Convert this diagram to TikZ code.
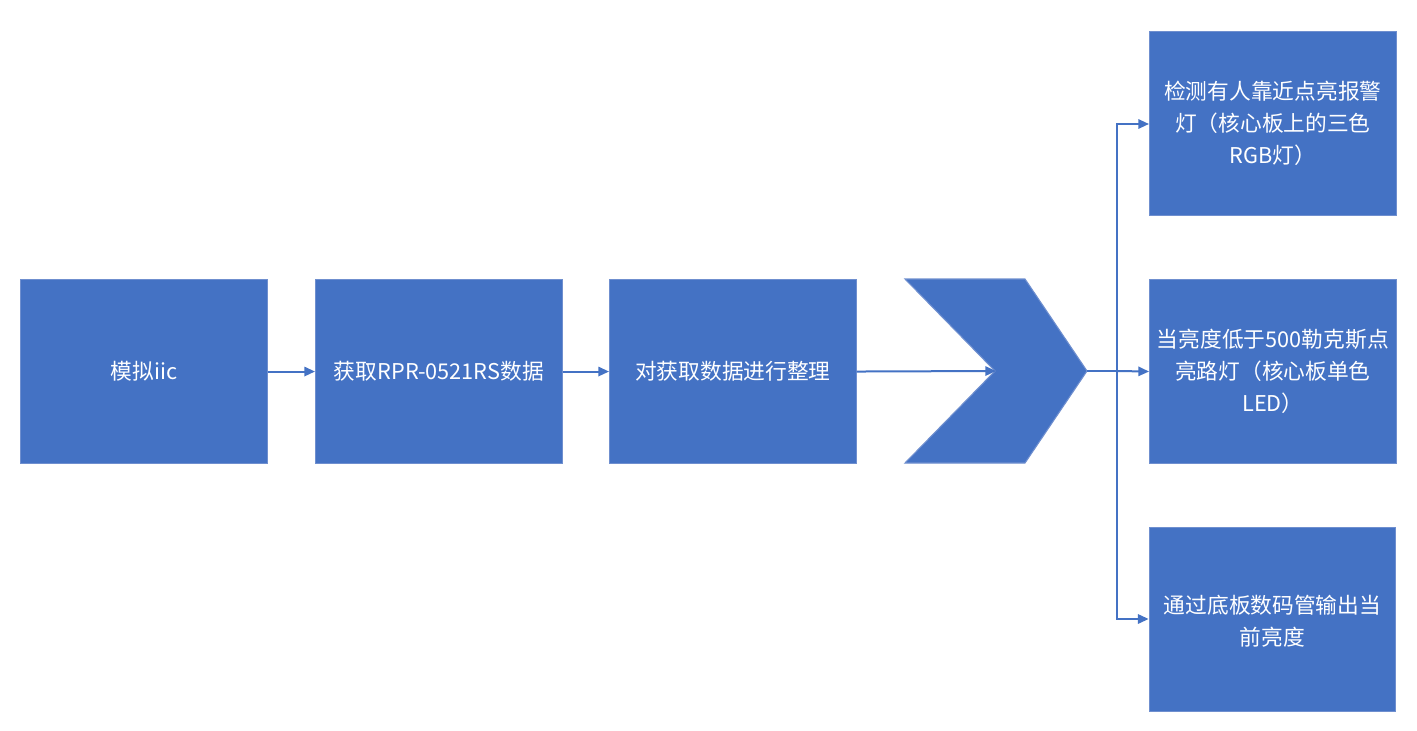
\documentclass[tikz,border=0pt]{standalone}
\usepackage{fontspec}
\setmainfont{Noto Sans CJK SC}
\usetikzlibrary{arrows.meta}
\definecolor{bl}{HTML}{4472C4}
\definecolor{bd}{HTML}{6F8FCF}
\begin{document}
\begin{tikzpicture}[x=0.75pt,y=-0.75pt,
  box/.style={draw=bd,fill=bl,line width=0.8pt,minimum width=185pt,minimum height=138pt,anchor=north west,inner sep=0pt,text=white,font=\fontsize{16.3}{24}\selectfont,align=center},
  conn/.style={draw=bl,line width=1.5pt,-{Triangle[length=8pt,width=7pt]}}]
\useasboundingbox (0,0) rectangle (1417,731);
\fill[white] (0,0) rectangle (1417,731);
\node[box] (a) at (20,279) {模拟iic};
\node[box] (b) at (315,279) {获取RPR-0521RS数据};
\node[box] (c) at (609,279) {对获取数据进行整理};
\fill[bl,draw=bd,line width=0.8pt] (905,279) -- (1025,279) -- (1087,371) -- (1025,463) -- (905,463) -- (995,371) -- cycle;
\coordinate (notch) at (996,371);
\coordinate (tip) at (1087,371);
\coordinate (j) at (1117,371);
\node[box] (r1) at (1149,31) {检测有人靠近点亮报警\\灯（核心板上的三色\\RGB灯）};
\node[box] (r2) at (1149,279) {当亮度低于500勒克斯点\\亮路灯（核心板单色\\LED）};
\node[box, anchor=north] (r3) at (1272.5,527) {\rule{0pt}{138pt}};
\node[text=white,font=\fontsize{16.3}{24}\selectfont,align=center,anchor=north] at (1272.5,590) {通过底板数码管输出当\\前亮度};
\draw[conn] (a.east) -- (b.west);
\draw[conn] (b.east) -- (c.west);
\draw[conn] (c.east) -- (notch);
\draw[draw=bl,line width=1.5pt] (tip) -- (j);
\draw[conn] (j) |- (r1.west|-0,124);
\draw[conn] (j) -- (r2.west);
\draw[conn] (j) |- (r3.west|-0,619);
\end{tikzpicture}
\end{document}
